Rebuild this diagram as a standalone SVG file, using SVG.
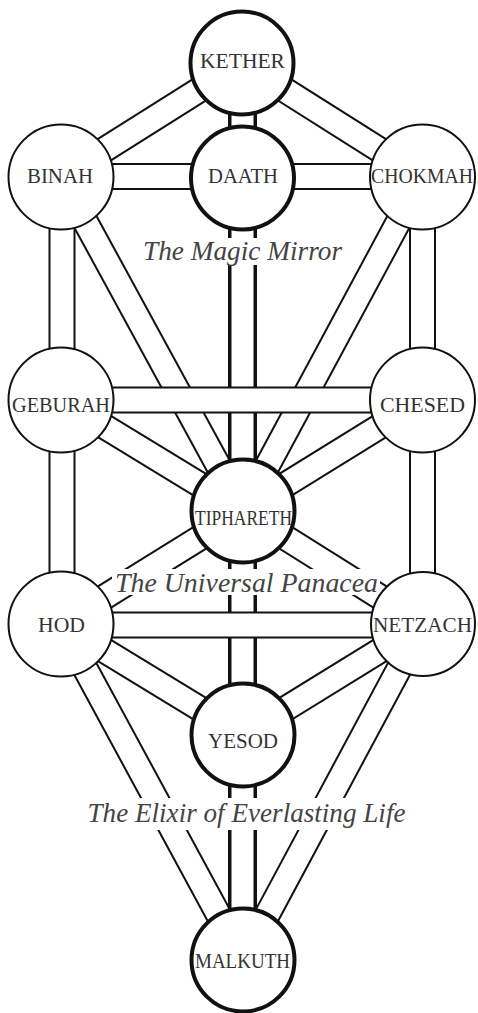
<svg xmlns="http://www.w3.org/2000/svg" width="478" height="1013" viewBox="0 0 478 1013">
<style>
.o{stroke:#111;stroke-width:27;fill:none}
.i{stroke:#fff;stroke-width:23;fill:none}
.ot{stroke:#111;stroke-width:29;fill:none}
.it{stroke:#fff;stroke-width:22;fill:none}
.c{fill:#fff;stroke:#111;stroke-width:2}
.ct{fill:#fff;stroke:#111;stroke-width:4}
.lb{font-family:"Liberation Serif","Times New Roman",serif;fill:#333;text-anchor:middle}
.it-lbl{font-family:"Liberation Serif","Times New Roman",serif;font-style:italic;font-size:27px;fill:#444;text-anchor:middle}
.bg{fill:#fff}
</style>
<rect width="478" height="1013" fill="#fff"/>
<g id="connectors">
  <!-- Kether paths -->
  <line class="o" x1="242" y1="63" x2="61" y2="177"/><line class="i" x1="242" y1="63" x2="61" y2="177"/>
  <line class="o" x1="242" y1="63" x2="422.5" y2="177"/><line class="i" x1="242" y1="63" x2="422.5" y2="177"/>
  <line class="ot" x1="242.5" y1="63" x2="242.5" y2="178"/><line class="it" x1="242.5" y1="63" x2="242.5" y2="178"/>
  <!-- Supernal horizontals -->
  <line class="o" x1="61" y1="176.5" x2="242.5" y2="176.5"/><line class="i" x1="61" y1="176.5" x2="242.5" y2="176.5"/>
  <line class="o" x1="242.5" y1="176.5" x2="422.5" y2="176.5"/><line class="i" x1="242.5" y1="176.5" x2="422.5" y2="176.5"/>
  <!-- Pillars upper -->
  <line class="o" x1="62" y1="177" x2="62" y2="400"/><line class="i" x1="62" y1="177" x2="62" y2="400"/>
  <line class="o" x1="422.5" y1="177" x2="422.5" y2="400"/><line class="i" x1="422.5" y1="177" x2="422.5" y2="400"/>
  <!-- To Tiphareth from above -->
  <line class="o" x1="61" y1="177" x2="243" y2="511"/><line class="i" x1="61" y1="177" x2="243" y2="511"/>
  <line class="o" x1="422.5" y1="177" x2="243" y2="511"/><line class="i" x1="422.5" y1="177" x2="243" y2="511"/>
  <line class="ot" x1="242.5" y1="178" x2="242.5" y2="511"/><line class="it" x1="242.5" y1="178" x2="242.5" y2="511"/>
  <line class="o" x1="61" y1="400" x2="243" y2="511"/><line class="i" x1="61" y1="400" x2="243" y2="511"/>
  <line class="o" x1="422.5" y1="400" x2="243" y2="511"/><line class="i" x1="422.5" y1="400" x2="243" y2="511"/>
  <!-- Geburah-Chesed -->
  <line class="o" x1="61" y1="400" x2="422.5" y2="400"/><line class="i" x1="61" y1="400" x2="422.5" y2="400"/>
  <!-- Pillars lower -->
  <line class="o" x1="62" y1="400" x2="62" y2="624"/><line class="i" x1="62" y1="400" x2="62" y2="624"/>
  <line class="o" x1="422.5" y1="400" x2="422.5" y2="624"/><line class="i" x1="422.5" y1="400" x2="422.5" y2="624"/>
  <!-- Tiphareth down -->
  <line class="o" x1="243" y1="511" x2="61" y2="624"/><line class="i" x1="243" y1="511" x2="61" y2="624"/>
  <line class="o" x1="243" y1="511" x2="423" y2="624"/><line class="i" x1="243" y1="511" x2="423" y2="624"/>
  <line class="ot" x1="242.5" y1="511" x2="242.5" y2="735"/><line class="it" x1="242.5" y1="511" x2="242.5" y2="735"/>
  <!-- Hod-Netzach -->
  <line class="o" x1="61" y1="625" x2="423" y2="625"/><line class="i" x1="61" y1="625" x2="423" y2="625"/>
  <!-- Lower -->
  <line class="o" x1="61" y1="624" x2="243" y2="735"/><line class="i" x1="61" y1="624" x2="243" y2="735"/>
  <line class="o" x1="423" y1="624" x2="243" y2="735"/><line class="i" x1="423" y1="624" x2="243" y2="735"/>
  <line class="o" x1="61" y1="624" x2="243" y2="960"/><line class="i" x1="61" y1="624" x2="243" y2="960"/>
  <line class="o" x1="423" y1="624" x2="243" y2="960"/><line class="i" x1="423" y1="624" x2="243" y2="960"/>
  <line class="ot" x1="242.5" y1="735" x2="242.5" y2="960"/><line class="it" x1="242.5" y1="735" x2="242.5" y2="960"/>
</g>
<g id="label-backgrounds">
  <rect class="bg" x="140" y="238" width="204" height="27"/>
  <rect class="bg" x="112" y="569" width="268" height="26"/>
  <rect class="bg" x="86" y="798" width="324" height="32"/>
</g>
<g id="kether"><circle class="ct" cx="242" cy="63" r="51.5"/><text class="lb" x="242.5" y="68" font-size="20" textLength="85" lengthAdjust="spacingAndGlyphs">KETHER</text></g>
<g id="daath"><circle class="ct" cx="242.5" cy="178" r="51.5"/><text class="lb" x="243" y="183" font-size="20" textLength="70" lengthAdjust="spacingAndGlyphs">DAATH</text></g>
<g id="binah"><circle class="c" cx="61" cy="177" r="52.5"/><text class="lb" x="60" y="183" font-size="20" textLength="66" lengthAdjust="spacingAndGlyphs">BINAH</text></g>
<g id="chokmah"><circle class="c" cx="422.5" cy="177" r="52.5"/><text class="lb" x="422" y="183" font-size="20" textLength="102" lengthAdjust="spacingAndGlyphs">CHOKMAH</text></g>
<g id="geburah"><circle class="c" cx="61" cy="400" r="52.5"/><text class="lb" x="61" y="412" font-size="22" textLength="98" lengthAdjust="spacingAndGlyphs">GEBURAH</text></g>
<g id="chesed"><circle class="c" cx="422.5" cy="400" r="52.5"/><text class="lb" x="422.5" y="412" font-size="22" textLength="85" lengthAdjust="spacingAndGlyphs">CHESED</text></g>
<g id="tiphareth"><circle class="ct" cx="243" cy="511" r="51.5"/><text class="lb" x="243.5" y="525" font-size="22" textLength="97" lengthAdjust="spacingAndGlyphs">TIPHARETH</text></g>
<g id="hod"><circle class="c" cx="61" cy="624" r="52.5"/><text class="lb" x="61.5" y="632" font-size="20" textLength="47" lengthAdjust="spacingAndGlyphs">HOD</text></g>
<g id="netzach"><circle class="c" cx="423" cy="624" r="52"/><text class="lb" x="422.5" y="632" font-size="21" textLength="99" lengthAdjust="spacingAndGlyphs">NETZACH</text></g>
<g id="yesod"><circle class="ct" cx="243" cy="735" r="51.5"/><text class="lb" x="243" y="748" font-size="21" textLength="70" lengthAdjust="spacingAndGlyphs">YESOD</text></g>
<g id="malkuth"><circle class="ct" cx="243" cy="960" r="51.5"/><text class="lb" x="242.5" y="968" font-size="21" textLength="95" lengthAdjust="spacingAndGlyphs">MALKUTH</text></g>
<g id="labels">
  <text class="it-lbl" x="242.5" y="260" textLength="199" lengthAdjust="spacingAndGlyphs">The Magic Mirror</text>
  <text class="it-lbl" x="246.5" y="592" textLength="263" lengthAdjust="spacingAndGlyphs">The Universal Panacea</text>
  <text class="it-lbl" x="246.5" y="822" textLength="318" lengthAdjust="spacingAndGlyphs">The Elixir of Everlasting Life</text>
</g>
</svg>
